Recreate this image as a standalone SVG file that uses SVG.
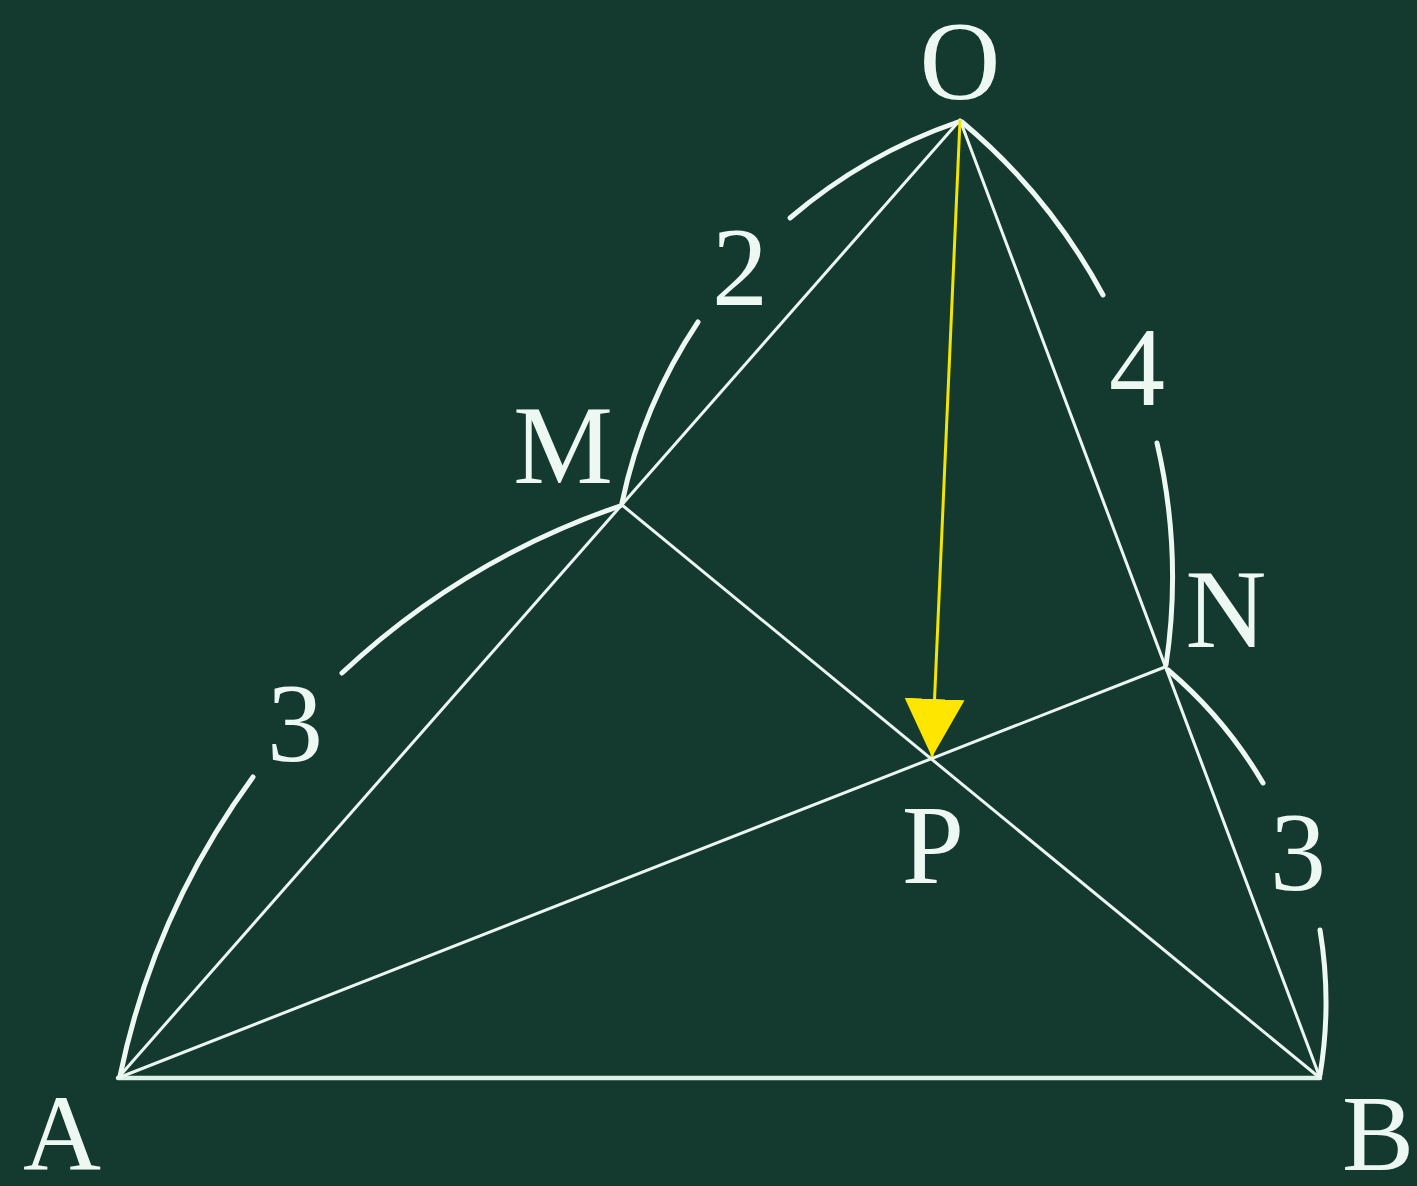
<svg xmlns="http://www.w3.org/2000/svg" width="1417" height="1186" viewBox="0 0 1417 1186">
  <style>
    .bg { fill: #143a30; }
    .edge { stroke: #eaf6ef; stroke-width: 3; fill: none; stroke-linecap: round; }
    .base { stroke: #dcf2e6; stroke-width: 4.5; fill: none; stroke-linecap: round; }
    .arc { stroke: #eef8f3; stroke-width: 5; fill: none; stroke-linecap: round; }
    .vec { stroke: #f2e600; stroke-width: 3; fill: none; }
    .lbl { font-family: "Liberation Serif", "DejaVu Serif", serif; font-size: 112px; fill: #eef8f3; text-anchor: middle; }
    .corner { font-size: 108px; }
  </style>
  <defs>
    <marker id="arrowhead" viewBox="0 0 58 60" refX="58" refY="30" markerWidth="58" markerHeight="60" markerUnits="userSpaceOnUse" orient="auto">
      <path d="M0,0 L58,30 L0,60 Z" fill="#ffe600"/>
    </marker>
  </defs>
  <rect class="bg" x="0" y="0" width="1417" height="1186"/>

  <g id="connectors">
    <line class="base" x1="118" y1="1078" x2="1320" y2="1078"/>
    <line class="edge" x1="960" y1="120" x2="118" y2="1078"/>
    <line class="edge" x1="960" y1="120" x2="1320" y2="1078"/>
    <line class="edge" x1="118" y1="1078" x2="1165" y2="667"/>
    <line class="edge" x1="1320" y1="1078" x2="622" y2="505"/>
    <path class="arc" d="M958,122 A517,517 0 0,0 790,218"/>
    <path class="arc" d="M698,322 A517,517 0 0,0 622,503"/>
    <path class="arc" d="M620,506 A771,771 0 0,0 342,673"/>
    <path class="arc" d="M253,777 A771,771 0 0,0 120,1076"/>
    <path class="arc" d="M962,122 A592,592 0 0,1 1103,295"/>
    <path class="arc" d="M1157,443 A592,592 0 0,1 1166,665"/>
    <path class="arc" d="M1168,670 A441,441 0 0,1 1263,783"/>
    <path class="arc" d="M1320,930 A441,441 0 0,1 1320,1075"/>
    <line class="vec" x1="960" y1="120" x2="932" y2="757" marker-end="url(#arrowhead)"/>
  </g>

  <g id="node-O"><text class="lbl" x="960" y="99">O</text></g>
  <g id="node-M"><text class="lbl" x="563" y="483">M</text></g>
  <g id="node-N"><text class="lbl" x="1226" y="647">N</text></g>
  <g id="node-P"><text class="lbl" x="933" y="883">P</text></g>
  <g id="node-A"><text class="lbl corner" x="62" y="1170">A</text></g>
  <g id="node-B"><text class="lbl corner" x="1378" y="1170">B</text></g>
  <g id="label-OM"><text class="lbl" x="740" y="305">2</text></g>
  <g id="label-MA"><text class="lbl" x="295" y="761">3</text></g>
  <g id="label-ON"><text class="lbl" x="1137" y="405">4</text></g>
  <g id="label-NB"><text class="lbl" x="1298" y="890">3</text></g>
</svg>
